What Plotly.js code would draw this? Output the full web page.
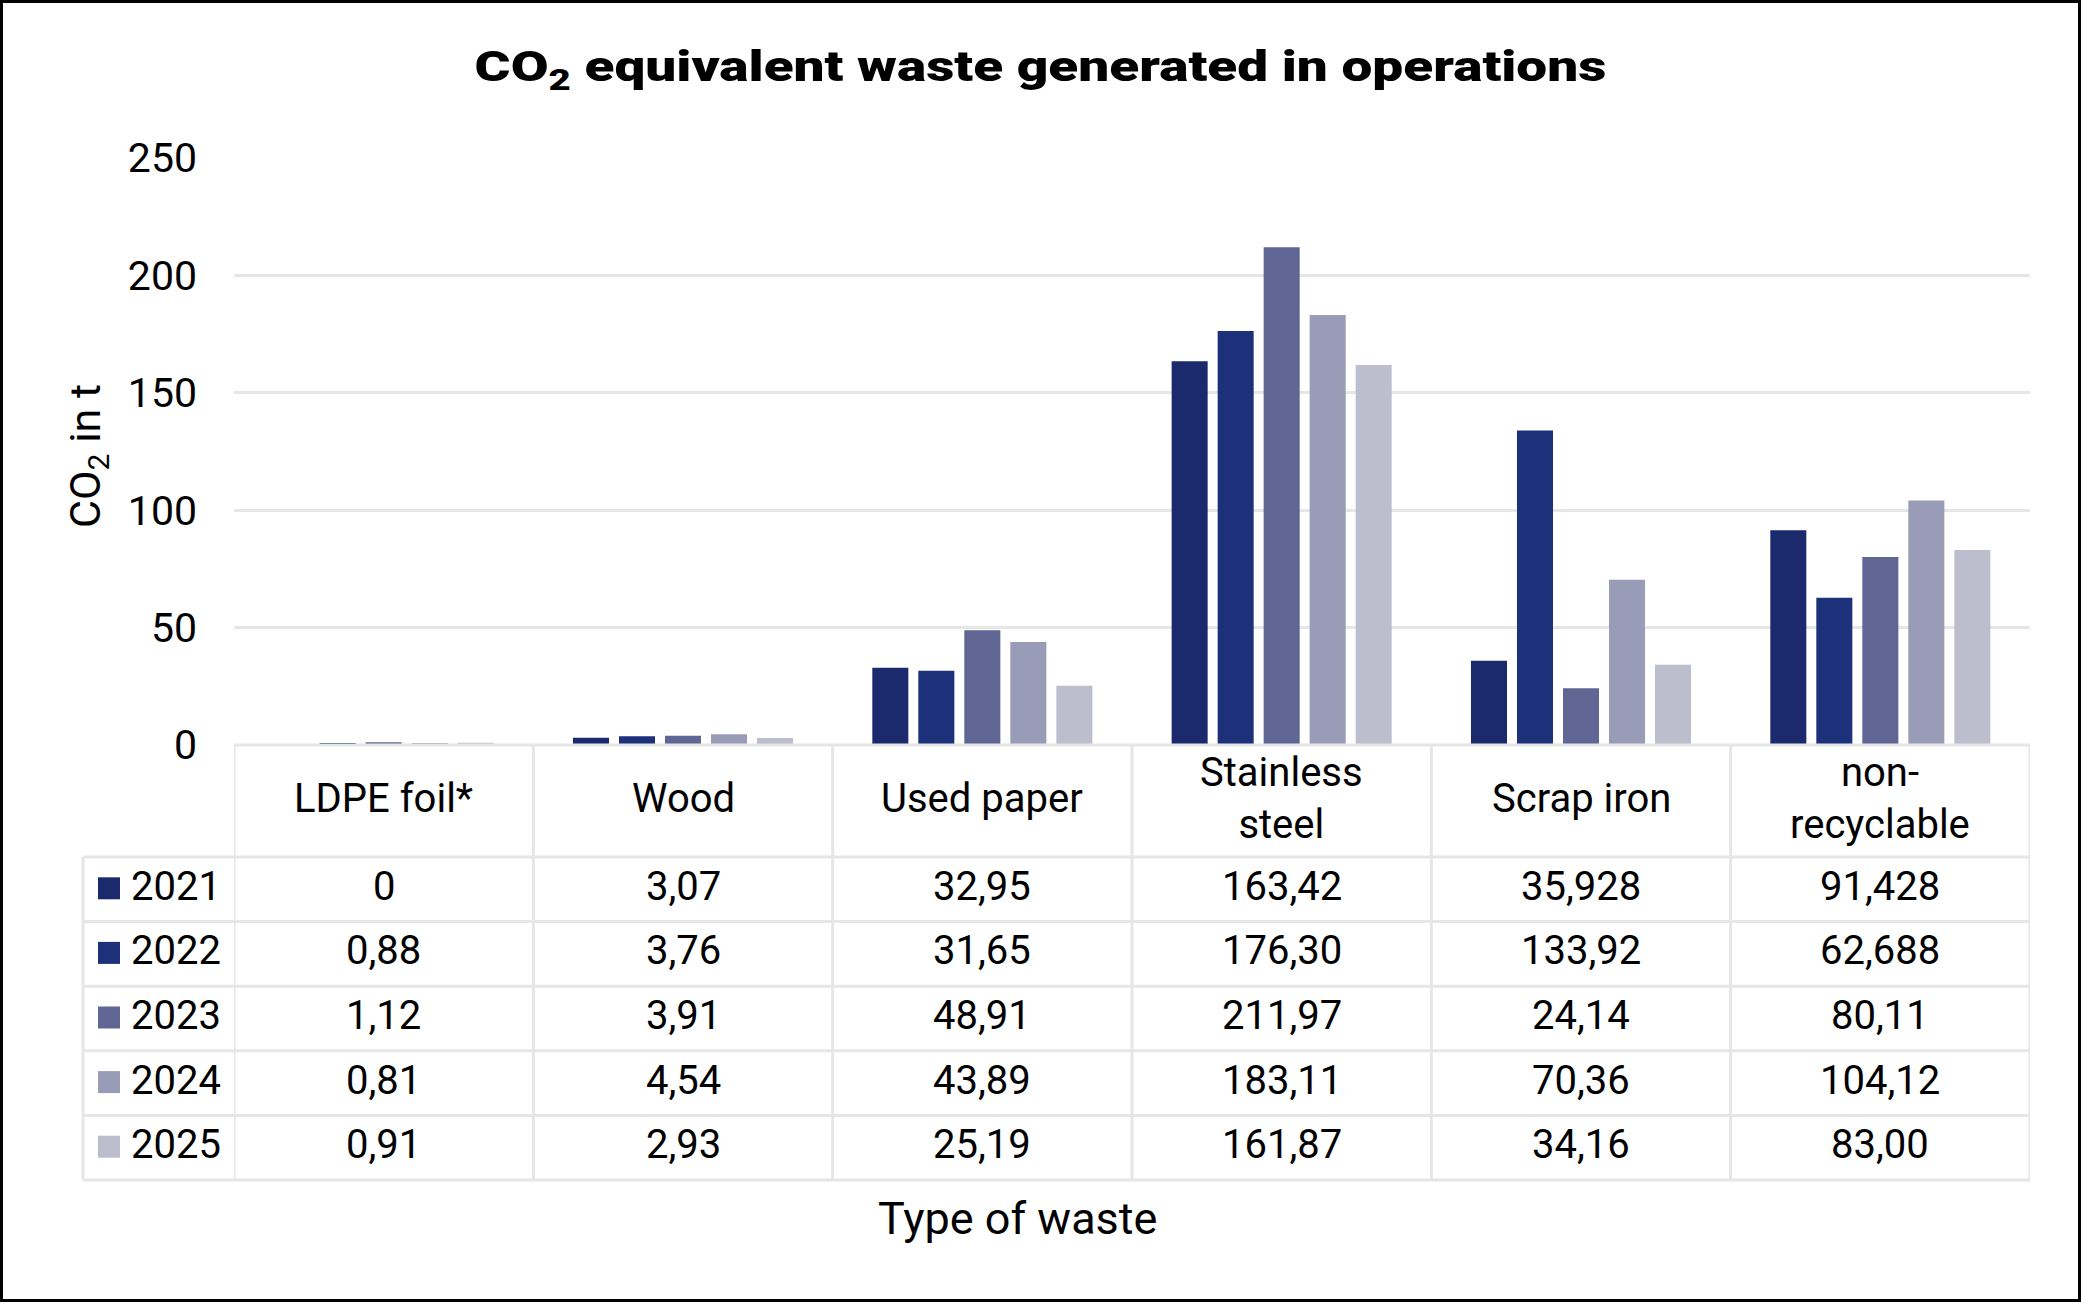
<!DOCTYPE html>
<html>
<head>
<meta charset="utf-8">
<script src="https://cdn.plot.ly/plotly-3.0.1.min.js"></script>
<style>
  html, body { margin: 0; padding: 0; background: #fff; }
  #chart { width: 2081px; height: 1302px; }
</style>
</head>
<body>
<div id="chart"></div>
<script>
// Waste categories (column headers of the data table)
const categories = ['LDPE foil*', 'Wood', 'Used paper', 'Stainless steel', 'Scrap iron', 'non-recyclable'];
const headerLabels = ['LDPE foil*', 'Wood', 'Used paper', 'Stainless<br>steel', 'Scrap iron', 'non-<br>recyclable'];

// Years (series) and their colours
const years = ['2021', '2022', '2023', '2024', '2025'];
const colors = ['#1a2a6c', '#1c3179', '#5f6694', '#999cb6', '#bcbecd'];

// CO2 equivalent in t, as printed in the table (decimal comma)
const v2021 = ['0', '3,07', '32,95', '163,42', '35,928', '91,428'];
const v2022 = ['0,88', '3,76', '31,65', '176,30', '133,92', '62,688'];
const v2023 = ['1,12', '3,91', '48,91', '211,97', '24,14', '80,11'];
const v2024 = ['0,81', '4,54', '43,89', '183,11', '70,36', '104,12'];
const v2025 = ['0,91', '2,93', '25,19', '161,87', '34,16', '83,00'];
const seriesText = [v2021, v2022, v2023, v2024, v2025];

// Y axis ticks
const yTicks = [0, 50, 100, 150, 200, 250];

const toNumber = s => parseFloat(s.replace(',', '.'));

// Figure geometry in pixels
const W = 2081, H = 1302;
const M = { l: 234, r: 51, t: 158, b: 557 };
const plotW = W - M.l - M.r, plotH = H - M.t - M.b;
const px = x => (x - M.l) / plotW;           // pixel x -> paper x
const py = y => (H - M.b - y) / plotH;       // pixel y -> paper y

const FONT = 'Roboto, "Noto Sans", Arial, sans-serif';
const gridColor = '#e6e6e6';
const TXT = 40;

const traces = years.map((yr, i) => ({
  type: 'bar',
  name: yr,
  x: categories,
  y: seriesText[i].map(toNumber),
  marker: { color: colors[i] },
  hoverinfo: 'x+y+name'
}));

// Data table rows
const tableTop = H - M.b, headerBottom = 857, rowH = 64.6;
const rowCenter = r => headerBottom + rowH * (r + 0.5);
const tableBottom = headerBottom + rowH * years.length;
const legendLeft = 83;

const shapes = [];
const annotations = [];
const line = { color: gridColor, width: 3 };

// horizontal rules
shapes.push({ type: 'line', xref: 'paper', yref: 'paper', x0: 0, x1: 1, y0: py(tableTop), y1: py(tableTop), line });
for (let r = 0; r <= years.length; r++) {
  const y = py(headerBottom + rowH * r);
  shapes.push({ type: 'line', xref: 'paper', yref: 'paper', x0: px(legendLeft), x1: 1, y0: y, y1: y, line });
}
// vertical rules
shapes.push({ type: 'line', xref: 'paper', yref: 'paper', x0: px(legendLeft), x1: px(legendLeft), y0: py(headerBottom), y1: py(tableBottom), line });
for (let c = 0; c <= categories.length; c++) {
  shapes.push({ type: 'line', xref: 'x', yref: 'paper', x0: c - 0.5, x1: c - 0.5, y0: py(tableTop), y1: py(tableBottom), line });
}

// column headers
headerLabels.forEach((lab, c) => {
  annotations.push({
    xref: 'x', yref: 'paper', x: c, y: py((tableTop + headerBottom) / 2 - 3),
    text: lab, showarrow: false, xanchor: 'center', yanchor: 'middle',
    font: { family: FONT, size: TXT, color: '#000' }
  });
});

// row legend keys and values
years.forEach((yr, r) => {
  const yc = rowCenter(r);
  shapes.push({
    type: 'rect', xref: 'paper', yref: 'paper',
    x0: px(98), x1: px(120), y0: py(yc + 10), y1: py(yc - 12),
    fillcolor: colors[r], line: { width: 0 }
  });
  annotations.push({
    xref: 'paper', yref: 'paper', x: px(129), y: py(yc - 3), text: yr,
    showarrow: false, xanchor: 'left', yanchor: 'middle',
    font: { family: FONT, size: TXT, color: '#000' }
  });
  seriesText[r].forEach((txt, c) => {
    annotations.push({
      xref: 'x', yref: 'paper', x: c, y: py(yc - 3), text: txt,
      showarrow: false, xanchor: 'center', yanchor: 'middle',
      font: { family: FONT, size: TXT, color: '#000' }
    });
  });
});

// axis titles
annotations.push({
  xref: 'paper', yref: 'paper', x: px(1017), y: py(1218),
  text: 'Type of waste', showarrow: false, xanchor: 'center', yanchor: 'middle',
  font: { family: FONT, size: 45, color: '#000' }
});
annotations.push({
  xref: 'paper', yref: 'paper', x: px(88), y: py(456),
  text: 'CO<sub>2</sub> in t', textangle: -90, showarrow: false,
  xanchor: 'center', yanchor: 'middle',
  font: { family: FONT, size: 43, color: '#000' }
});

// outer frame
shapes.push({
  type: 'rect', xref: 'paper', yref: 'paper',
  x0: px(1.5), x1: px(W - 1.5), y0: py(1.5), y1: py(H - 1.5),
  line: { color: '#000', width: 3 }, fillcolor: 'rgba(0,0,0,0)'
});

const layout = {
  width: W, height: H,
  margin: M,
  paper_bgcolor: '#fff', plot_bgcolor: '#fff',
  barmode: 'group', bargap: 0.2315, bargroupgap: 0.217,
  showlegend: false,
  title: {
    text: 'CO<sub>2</sub> equivalent waste generated in operations',
    xref: 'container', yref: 'container', x: 0.5, y: 1 - 66 / H,
    xanchor: 'center', yanchor: 'middle',
    font: { family: FONT, size: 43, color: '#000', weight: 900 }
  },
  xaxis: {
    type: 'category', range: [-0.5, categories.length - 0.5],
    showticklabels: false, ticks: '', showgrid: false, zeroline: false, showline: false
  },
  yaxis: {
    range: [0, 250], tickvals: yTicks, ticks: '',
    showgrid: true, gridcolor: gridColor, gridwidth: 3,
    zeroline: false, showline: false,
    ticklabelstandoff: 36,
    tickfont: { family: FONT, size: 41, color: '#000' }
  },
  shapes, annotations
};

// Wide heavy title: stretch the title text horizontally around its centre
const TITLE_WIDTH = 1132;
Plotly.newPlot('chart', traces, layout, { staticPlot: true, displayModeBar: false }).then(gd => {
  const t = gd.querySelector('.gtitle');
  if (!t) return;
  const bb = t.getBBox();
  if (!bb.width) return;
  const cx = bb.x + bb.width / 2;
  const s = TITLE_WIDTH / bb.width;
  t.setAttribute('transform', `translate(${cx},0) scale(${s},1) translate(${-cx},0)`);
});
</script>
</body>
</html>
